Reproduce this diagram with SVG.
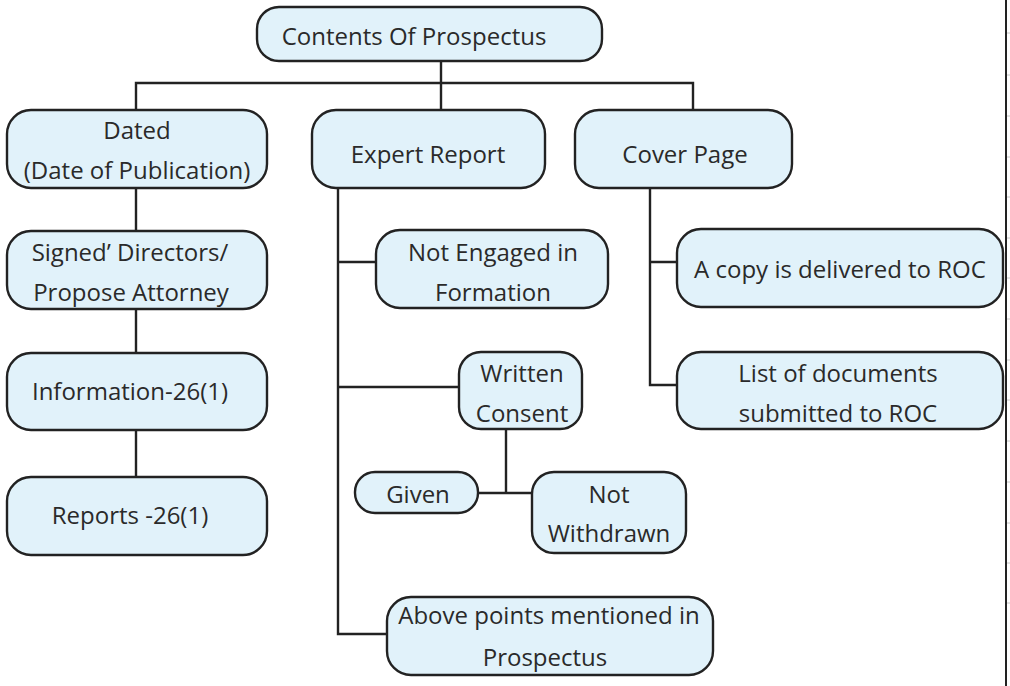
<svg xmlns="http://www.w3.org/2000/svg" width="1010" height="686" viewBox="0 0 1010 686">
  <style>
    .box { fill: #e1f2fa; stroke: #222; stroke-width: 2.4; }
    .lbl { font-family: "Open Sans", "Noto Sans", sans-serif; font-size: 24px; fill: #2a2a2a; text-anchor: middle; }
    .wire { fill: none; stroke: #222; stroke-width: 2.4; }
    .tick { stroke: #c8c8c8; stroke-width: 1; }
  </style>
  <rect width="1010" height="686" fill="#ffffff"/>

  <!-- page edge rule on the right -->
  <g id="edge">
    <line x1="1006" y1="0" x2="1006" y2="686" stroke="#222" stroke-width="2"/>
    <line class="tick" x1="1007" y1="33" x2="1010" y2="33"/>
    <line class="tick" x1="1007" y1="75" x2="1010" y2="75"/>
    <line class="tick" x1="1007" y1="116" x2="1010" y2="116"/>
    <line class="tick" x1="1007" y1="157" x2="1010" y2="157"/>
    <line class="tick" x1="1007" y1="197" x2="1010" y2="197"/>
    <line class="tick" x1="1007" y1="238" x2="1010" y2="238"/>
    <line class="tick" x1="1007" y1="278" x2="1010" y2="278"/>
    <line class="tick" x1="1007" y1="319" x2="1010" y2="319"/>
    <line class="tick" x1="1007" y1="360" x2="1010" y2="360"/>
    <line class="tick" x1="1007" y1="400" x2="1010" y2="400"/>
    <line class="tick" x1="1007" y1="441" x2="1010" y2="441"/>
    <line class="tick" x1="1007" y1="482" x2="1010" y2="482"/>
    <line class="tick" x1="1007" y1="523" x2="1010" y2="523"/>
    <line class="tick" x1="1007" y1="563" x2="1010" y2="563"/>
    <line class="tick" x1="1007" y1="603" x2="1010" y2="603"/>
  </g>

  <!-- connectors -->
  <g id="connectors">
    <path class="wire" d="M441 61 V83 M136 110 V83 H693 V110 M441 83 V110"/>
    <path class="wire" d="M136 188 V231 M136 309 V353 M136 430 V477"/>
    <path class="wire" d="M338 188 V634 H387 M338 262 H376 M338 387 H459"/>
    <path class="wire" d="M506 429 V493 M478 493 H532"/>
    <path class="wire" d="M650 188 V385 H677 M650 262 H677"/>
  </g>

  <g id="root">
    <rect class="box" x="257" y="7" width="345" height="54" rx="22"/>
    <text class="lbl" x="414" y="45">Contents Of Prospectus</text>
  </g>

  <g id="dated">
    <rect class="box" x="7" y="110" width="260" height="78" rx="24"/>
    <text class="lbl" x="137" y="139">Dated</text>
    <text class="lbl" x="137" y="179">(Date of Publication)</text>
  </g>

  <g id="signed">
    <rect class="box" x="7" y="231" width="260" height="78" rx="24"/>
    <text class="lbl" x="130" y="261">Signed’ Directors/</text>
    <text class="lbl" x="131" y="301">Propose Attorney</text>
  </g>

  <g id="information">
    <rect class="box" x="7" y="353" width="260" height="77" rx="24"/>
    <text class="lbl" x="130" y="400">Information-26(1)</text>
  </g>

  <g id="reports">
    <rect class="box" x="7" y="477" width="260" height="78" rx="24"/>
    <text class="lbl" x="130" y="524">Reports -26(1)</text>
  </g>

  <g id="expert">
    <rect class="box" x="312" y="110" width="233" height="78" rx="24"/>
    <text class="lbl" x="428" y="163">Expert Report</text>
  </g>

  <g id="cover">
    <rect class="box" x="575" y="110" width="217" height="78" rx="24"/>
    <text class="lbl" x="685" y="163">Cover Page</text>
  </g>

  <g id="not-engaged">
    <rect class="box" x="376" y="230" width="232" height="78" rx="24"/>
    <text class="lbl" x="493" y="261">Not Engaged in</text>
    <text class="lbl" x="493" y="301">Formation</text>
  </g>

  <g id="written-consent">
    <rect class="box" x="459" y="352" width="123" height="77" rx="22"/>
    <text class="lbl" x="522" y="382">Written</text>
    <text class="lbl" x="522" y="422">Consent</text>
  </g>

  <g id="given">
    <rect class="box" x="355" y="472" width="123" height="41" rx="20"/>
    <text class="lbl" x="418" y="503">Given</text>
  </g>

  <g id="not-withdrawn">
    <rect class="box" x="532" y="472" width="154" height="81" rx="22"/>
    <text class="lbl" x="609" y="503">Not</text>
    <text class="lbl" x="609" y="542">Withdrawn</text>
  </g>

  <g id="above-points">
    <rect class="box" x="387" y="597" width="326" height="78" rx="24"/>
    <text class="lbl" x="549" y="624">Above points mentioned in</text>
    <text class="lbl" x="545" y="666">Prospectus</text>
  </g>

  <g id="copy-delivered">
    <rect class="box" x="677" y="229" width="326" height="78" rx="24"/>
    <text class="lbl" x="840" y="278">A copy is delivered to ROC</text>
  </g>

  <g id="list-documents">
    <rect class="box" x="677" y="352" width="326" height="77" rx="24"/>
    <text class="lbl" x="838" y="382">List of documents</text>
    <text class="lbl" x="838" y="422">submitted to ROC</text>
  </g>
</svg>
